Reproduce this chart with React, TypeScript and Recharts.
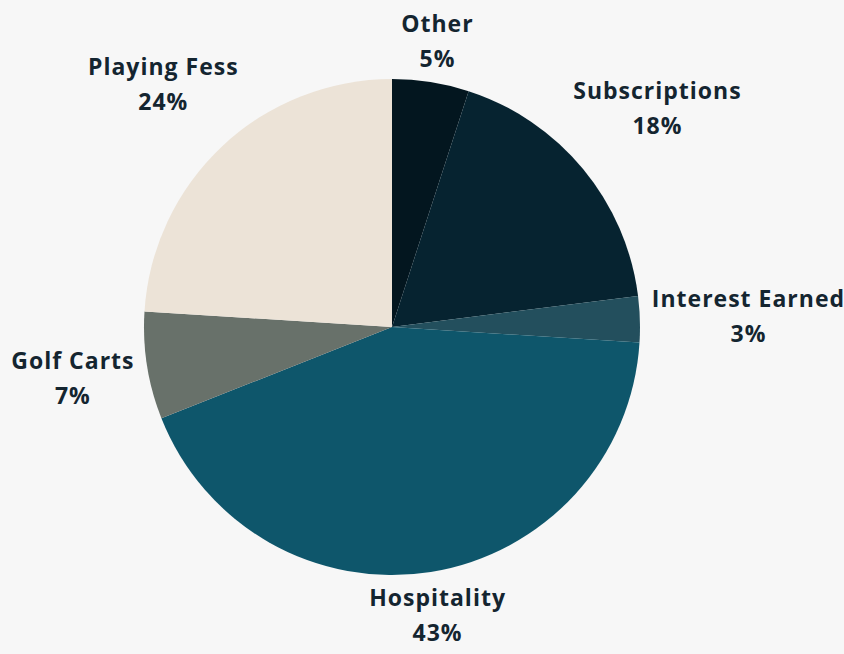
import React from 'react';
import { PieChart, Pie, Cell } from 'recharts';

const categories = ['Other', 'Subscriptions', 'Interest Earned', 'Hospitality', 'Golf Carts', 'Playing Fess'];
const shares = [5, 18, 3, 43, 7, 24];
const sliceColors = ['#03161f', '#062330', '#234f5d', '#0e566b', '#68716a', '#ece3d7'];

const data = categories.map((name, i) => ({ name, value: shares[i] }));

const FONT = "700 23px 'Open Sans'";
const SPACING = 1;
const LINE = 35;
const RADIAN = Math.PI / 180;

let ctx: CanvasRenderingContext2D | null = null;
const measure = (t: string) => {
  if (!ctx) ctx = document.createElement('canvas').getContext('2d');
  if (!ctx) return t.length * 12;
  ctx.font = FONT;
  return ctx.measureText(t).width + t.length * SPACING;
};

const renderLabel = (props: any) => {
  const { cx, cy, midAngle, outerRadius, name, value } = props;
  const c = Math.cos(-midAngle * RADIAN);
  const s = Math.sin(-midAngle * RADIAN);
  const hw = Math.max(measure(name), measure(value + '%')) / 2;
  const hh = 28;
  const sin2 = Math.sin(2 * midAngle * RADIAN);
  const gap = 12 + 24 * sin2 * sin2;
  const r = outerRadius + gap + c * c * hw + s * s * hh;
  const x = cx + r * c;
  const y = cy + r * s;
  return (
    <text
      x={x}
      y={y}
      textAnchor="middle"
      fill="#142530"
      style={{ font: FONT, letterSpacing: SPACING }}
    >
      <tspan x={x} y={y - LINE / 2} dominantBaseline="central">{name}</tspan>
      <tspan x={x} y={y + LINE / 2} dominantBaseline="central">{value}%</tspan>
    </text>
  );
};

export default function App() {
  React.useEffect(() => {
    document.body.style.margin = '0';
    document.body.style.background = '#f7f7f7';
  }, []);
  return (
    <div style={{ width: 844, height: 654, background: '#f7f7f7' }}>
      <PieChart width={844} height={654} margin={{ top: 0, right: 0, bottom: 0, left: 0 }}>
        <Pie
          data={data}
          dataKey="value"
          nameKey="name"
          cx={392}
          cy={327}
          outerRadius={248}
          startAngle={90}
          endAngle={-270}
          stroke="none"
          label={renderLabel}
          labelLine={false}
          isAnimationActive={false}
        >
          {data.map((d, i) => (
            <Cell key={d.name} fill={sliceColors[i]} />
          ))}
        </Pie>
      </PieChart>
    </div>
  );
}
